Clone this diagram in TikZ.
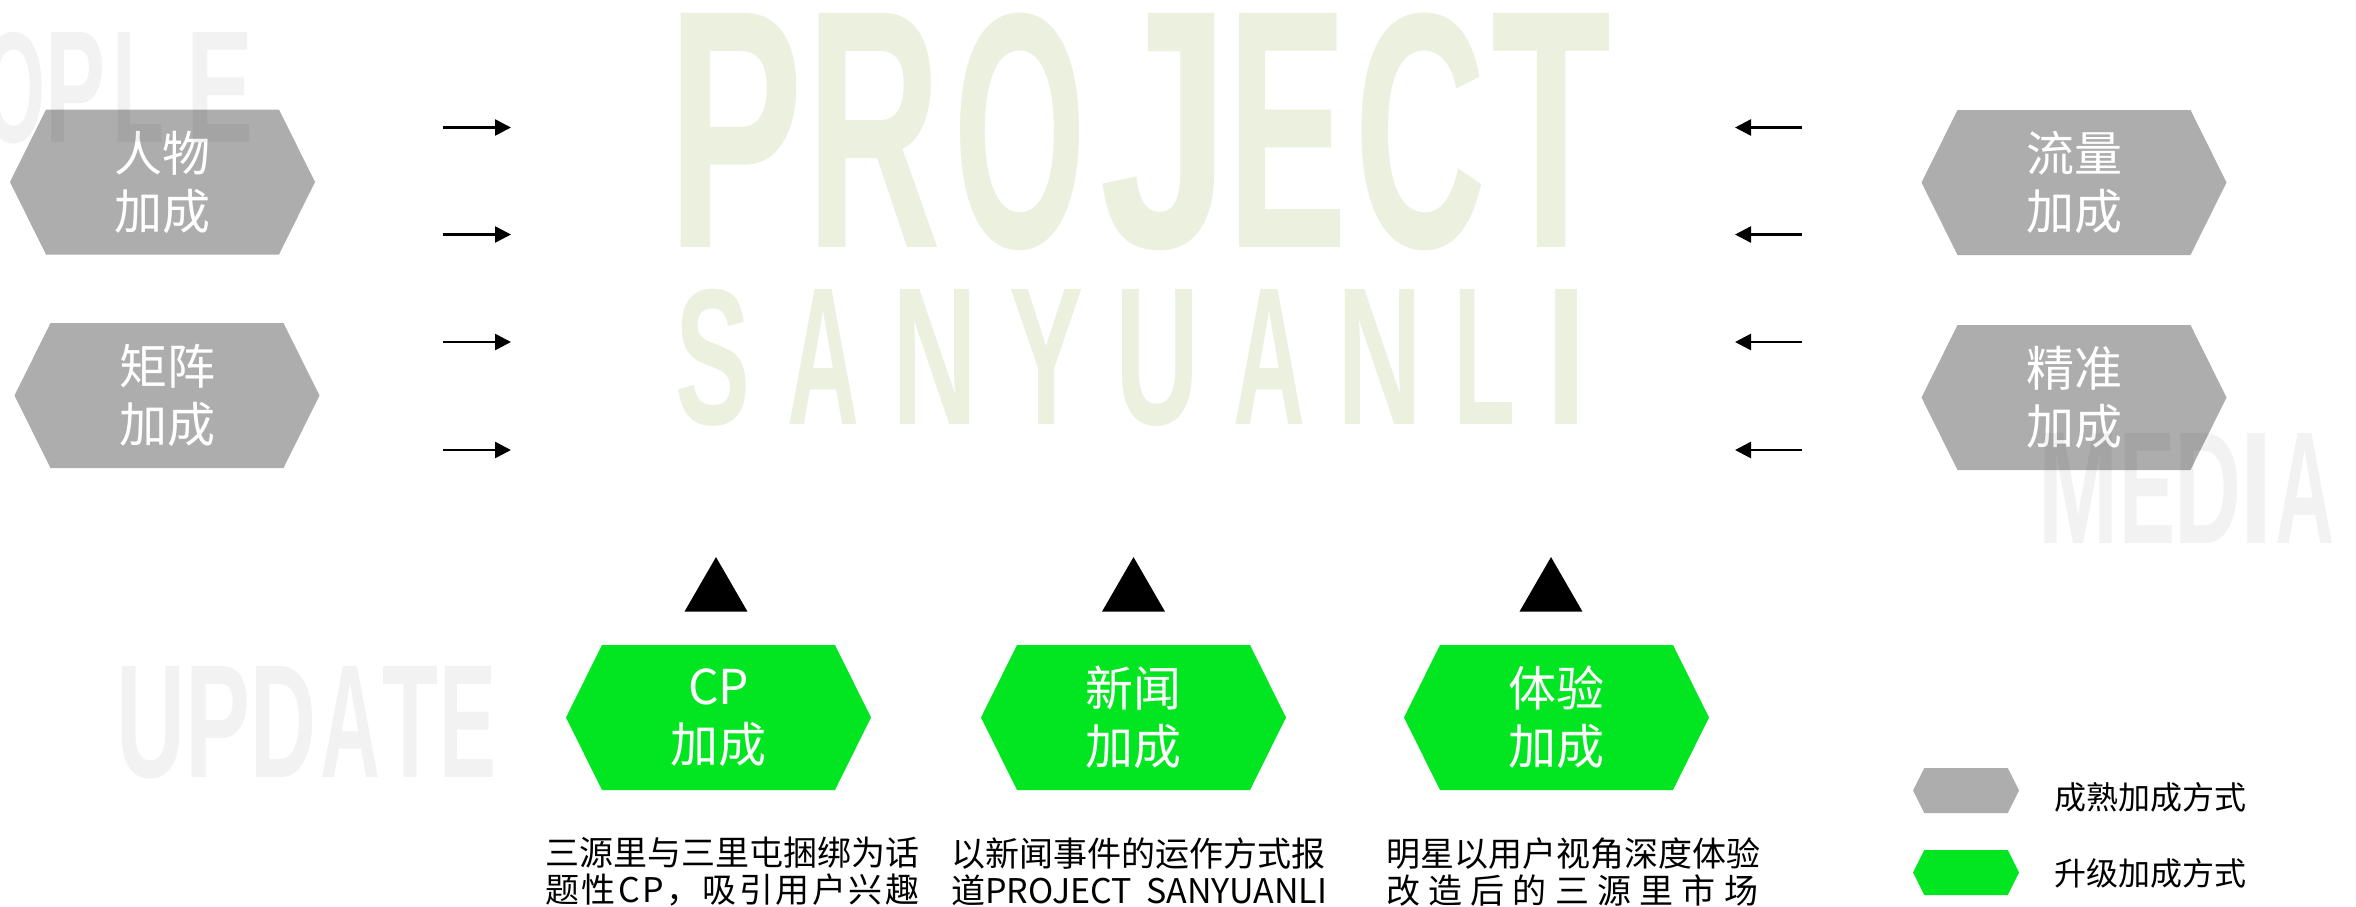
\documentclass[tikz,border=0pt]{standalone}
\usepackage{fontspec}
\setmainfont{Noto Sans CJK SC}
\newfontfamily\wmfont{Liberation Sans}
\usetikzlibrary{arrows.meta,shapes.geometric}
\definecolor{hexgray}{RGB}{173,173,173}
\definecolor{hexgreen}{RGB}{2,230,33}
\definecolor{projolive}{RGB}{235,240,223}
\newcommand\wl[3]{\resizebox{#1pt}{#2pt}{#3}}
\begin{document}
\begin{tikzpicture}[x=1pt,y=-1pt,
  hexa/.style 2 args={shape=rectangle, inner sep=0pt, outer sep=0pt, text=white, align=center,
    font=\fontsize{48pt}{58pt}\selectfont,
    path picture={\fill[#1] (path picture bounding box.west)
      -- ([xshift=#2]path picture bounding box.north west)
      -- ([xshift=-#2]path picture bounding box.north east)
      -- (path picture bounding box.east)
      -- ([xshift=-#2]path picture bounding box.south east)
      -- ([xshift=#2]path picture bounding box.south west) -- cycle;}},
  bighex/.style={hexa={#1}{36pt}, minimum width=305pt, minimum height=145pt},
  smallhex/.style={hexa={#1}{11.25pt}, minimum width=106pt, minimum height=45pt},
  olivewm/.style={inner sep=0pt, outer sep=0pt, text=projolive, font=\wmfont\bfseries, anchor=base west},
  graywm/.style={inner sep=0pt, outer sep=0pt, text=black, text opacity=0.05, font=\wmfont\bfseries, anchor=base west},
  arr/.style={line width=2.5pt, -{Triangle[length=16pt,width=16pt]}},
  tri/.style={regular polygon, regular polygon sides=3, fill=black, draw=none, minimum size=72.7pt, inner sep=0pt, outer sep=0pt},
  desc/.style={anchor=west, align=left, inner sep=0pt, font=\fontsize{34pt}{37pt}\selectfont},
  legtext/.style={anchor=west, inner sep=0pt, font=\fontsize{32pt}{38pt}\selectfont}
]
\useasboundingbox (0,0) rectangle (2356,906);
\fill[white] (0,0) rectangle (2356,906);
\clip (0,0) rectangle (2356,906);

% big olive watermark
\node[olivewm] (project) at (667,247) {\wl{136}{234}{P}\kern3pt\wl{135}{234}{R}\kern12pt\wl{133}{234}{O}\kern13pt\wl{131}{234}{J}\kern-3pt\wl{120}{234}{E}\kern6pt\wl{132}{234}{C}\kern5pt\wl{120}{234}{T}};
\node[olivewm] (sanyuanli) at (675,424) {\wl{75}{135}{S}\kern37pt\wl{72}{135}{A}\kern33.5pt\wl{85}{135}{N}\kern31.5pt\wl{74}{135}{Y}\kern32.6pt\wl{84}{135}{U}\kern33.4pt\wl{72}{135}{A}\kern32.5pt\wl{85}{135}{N}\kern31.1pt\wl{62}{135}{L}\kern29.9pt\wl{42}{135}{I}};

% hexagons
\node[bighex=hexgray] (renwu) at (162.5,182) {人物\\加成};
\node[bighex=hexgray] (juzhen) at (167,395.5) {矩阵\\加成};
\node[bighex=hexgray] (liuliang) at (2074,182.5) {流量\\加成};
\node[bighex=hexgray] (jingzhun) at (2074,397.5) {精准\\加成};
\node[bighex=hexgreen] (cp) at (718.5,717.5) {CP\\加成};
\node[bighex=hexgreen] (xinwen) at (1133.5,717.5) {新闻\\加成};
\node[bighex=hexgreen] (tiyan) at (1556.5,717.5) {体验\\加成};
\node[smallhex=hexgray] (legA) at (1966,790.5) {};
\node[smallhex=hexgreen] (legB) at (1966,872.5) {};

% gray watermarks
\node[graywm] (people) at (-147,142) {\wl{63}{110}{P}\kern2pt\wl{59}{110}{E}\kern5.4pt\wl{63}{110}{O}\kern-0.4pt\wl{60}{110}{P}\kern7pt\wl{52}{110}{L}\kern22pt\wl{67}{110}{E}};
\node[graywm] (update) at (116,777) {\wl{69}{111}{U}\wl{65}{111}{P}\wl{66}{111}{D}\kern4pt\wl{60}{111}{A}\kern2pt\wl{56}{111}{T}\kern1pt\wl{57}{111}{E}};
\node[graywm] (media) at (2038,543) {\wl{80}{110}{M}\kern1pt\wl{56}{110}{E}\kern-1pt\wl{67}{110}{D}\kern-1.5pt\wl{34}{110}{I}\kern1.5pt\wl{59}{110}{A}};

% arrows
\foreach \i/\yy in {1/127.5,2/234.5,3/342,4/450}{
  \coordinate (la\i) at (443,\yy);
  \coordinate (lb\i) at (511,\yy);
  \draw[arr] (la\i) -- (lb\i);
  \coordinate (ra\i) at (1802,\yy);
  \coordinate (rb\i) at (1735,\yy);
  \draw[arr] (ra\i) -- (rb\i);
}

% triangles
\node[tri] (tri1) at (716,593.4) {};
\node[tri] (tri2) at (1133.5,593.4) {};
\node[tri] (tri3) at (1551,593.4) {};

% descriptions
\node[desc] (cpdesc) at (545,872) {\hbox to 374pt{三源里与三里屯捆绑为话\hss}\\\hbox to 374pt{题\hfill 性\hfill C\hfill P\hfill ，\hfill 吸\hfill 引\hfill 用\hfill 户\hfill 兴\hfill 趣}};
\node[desc] (xwdesc) at (951,872) {\hbox to 376pt{以新闻事件的运作方式报\hss}\\\hbox to 376pt{道PROJECT\hfill SANYUANLI}};
\node[desc] (tydesc) at (1386,872) {\hbox to 372pt{明星以用户视角深度体验\hss}\\\hbox to 372pt{改\hfill 造\hfill 后\hfill 的\hfill 三\hfill 源\hfill 里\hfill 市\hfill 场}};

% legend
\node[legtext] (legAt) at (2054,797) {成熟加成方式};
\node[legtext] (legBt) at (2054,873) {升级加成方式};
\end{tikzpicture}
\end{document}
